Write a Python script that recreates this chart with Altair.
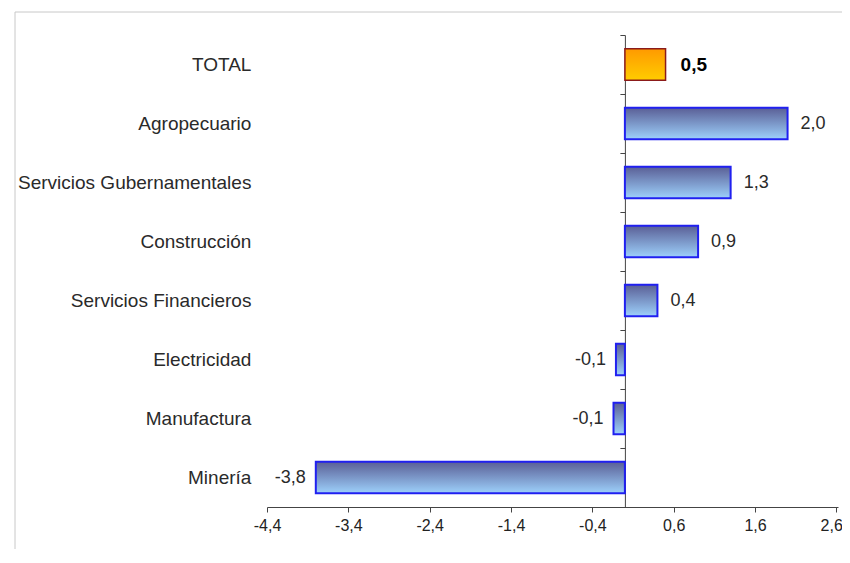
import altair as alt
import pandas as pd

categories = ["TOTAL", "Agropecuario", "Servicios Gubernamentales", "Construcción",
              "Servicios Financieros", "Electricidad", "Manufactura", "Minería"]
values = [0.5, 2.0, 1.3, 0.9, 0.4, -0.11, -0.14, -3.8]
tick_values = [-4.4, -3.4, -2.4, -1.4, -0.4, 0.6, 1.6, 2.6]

XMIN, XMAX = -4.4, 2.62
W, H = 571, 472
PAD_L, PAD_T, PAD_B, PAD_R = 259, 27, 42, 4
FONT = "Liberation Sans"

df = pd.DataFrame({"cat": categories, "val": values})

lbl_expr = "replace(replace(format(datum.val, '.1f'), '.', ','), '\u2212', '-')"

last_tick = "datum.value > 2.5"
x_enc = alt.X("val:Q",
              scale=alt.Scale(domain=[XMIN, XMAX], nice=False, zero=False),
              axis=alt.Axis(values=tick_values, grid=False, title=None,
                            labelExpr="replace(replace(format(datum.value, '.1f'), '.', ','), '\u2212', '-')",
                            tickSize=5, domainColor="#444444", tickColor="#444444",
                            labelFontSize=16, labelFont=FONT, labelColor="#222222",
                            labelPadding=5, labelFlush=False,
                            labelAlign={"condition": {"test": last_tick, "value": "right"}, "value": "center"},
                            labelOffset={"condition": {"test": last_tick, "value": 6}, "value": 0}))

zero_offset = -W * (0 - XMIN) / (XMAX - XMIN)

y_enc = alt.Y("cat:N", sort=categories,
              scale=alt.Scale(paddingInner=0, paddingOuter=0),
              axis=alt.Axis(title=None, offset=zero_offset, tickBand="extent",
                            tickSize=5, domainColor="#444444", tickColor="#444444",
                            labelPadding=369, labelFontSize=19, labelFont=FONT,
                            labelColor="#2a2a2a", labelLimit=0))

base = alt.Chart(df).transform_calculate(lbl=lbl_expr)

blue_grad = alt.LinearGradient(gradient="linear", x1=0, x2=0, y1=0, y2=1,
                               stops=[alt.GradientStop(offset=0, color="#5a5f96"),
                                      alt.GradientStop(offset=1, color="#9dd0fb")])
orange_grad = alt.LinearGradient(gradient="linear", x1=0, x2=0, y1=0, y2=1,
                                 stops=[alt.GradientStop(offset=0, color="#ff9a00"),
                                        alt.GradientStop(offset=1, color="#ffcc00")])

bars_blue = base.transform_filter("datum.cat != 'TOTAL'").mark_bar(
    height={"band": 0.53}, color=blue_grad, stroke="#2020f0", strokeWidth=2
).encode(x=x_enc, x2=alt.datum(0), y=y_enc)

bars_total = base.transform_filter("datum.cat == 'TOTAL'").mark_bar(
    height={"band": 0.53}, color=orange_grad, stroke="#8b1a1a", strokeWidth=1.5
).encode(x="val:Q", x2=alt.datum(0), y=alt.Y("cat:N", sort=categories))

txt_pos = base.transform_filter("datum.cat != 'TOTAL' && datum.val >= 0").mark_text(
    align="left", baseline="middle", dx=13, fontSize=18, font=FONT, color="#2a2a2a"
).encode(x="val:Q", y=alt.Y("cat:N", sort=categories), text="lbl:N")

txt_neg = base.transform_filter("datum.val < 0").mark_text(
    align="right", baseline="middle", dx=-10, fontSize=18, font=FONT, color="#2a2a2a"
).encode(x="val:Q", y=alt.Y("cat:N", sort=categories), text="lbl:N")

txt_total = base.transform_filter("datum.cat == 'TOTAL'").mark_text(
    align="left", baseline="middle", dx=15, fontSize=19, fontWeight="bold", font=FONT, color="#000000"
).encode(x="val:Q", y=alt.Y("cat:N", sort=categories), text="lbl:N")

frame_df = pd.DataFrame({"a": [0]})
frame_top = alt.Chart(frame_df).mark_rule(color="#c8c8c8", strokeWidth=1).encode(
    x=alt.value(-252), x2=alt.value(W + PAD_R), y=alt.value(-23))
frame_left = alt.Chart(frame_df).mark_rule(color="#c8c8c8", strokeWidth=1).encode(
    x=alt.value(-252), y=alt.value(-23), y2=alt.value(H + PAD_B))

chart = alt.layer(frame_top, frame_left, bars_blue, bars_total, txt_pos, txt_neg, txt_total).properties(
    width=W, height=H,
    background="white",
    autosize=alt.AutoSizeParams(type="none"),
    padding={"left": PAD_L, "top": PAD_T, "right": PAD_R, "bottom": PAD_B}
).configure_view(stroke="transparent", strokeWidth=0)

chart.save("out.html", embed_options={"renderer": "svg", "actions": False})
